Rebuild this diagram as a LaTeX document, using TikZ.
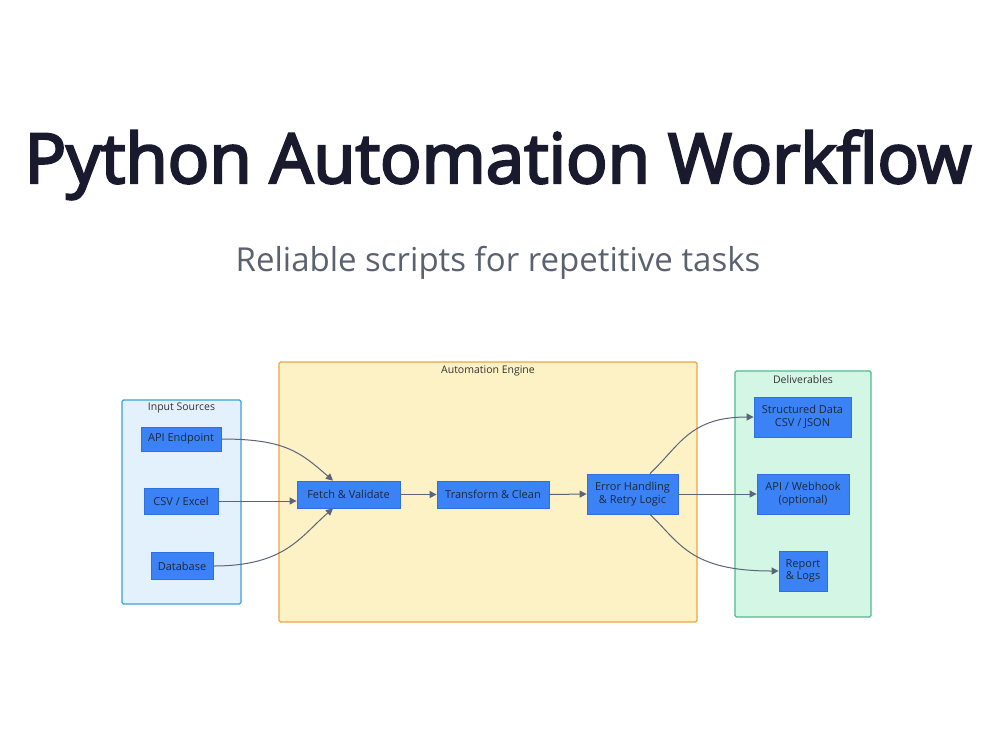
\documentclass[tikz,border=0pt]{standalone}
\usepackage{fontspec}
\setmainfont{Open Sans}
\newfontfamily\titlefont[FakeBold=3.5]{Open Sans}
\usetikzlibrary{arrows.meta}
\definecolor{titlec}{HTML}{1A1A2E}
\definecolor{subc}{HTML}{5A6270}
\definecolor{inFill}{HTML}{E3F1FD}
\definecolor{inDraw}{HTML}{3BA0DE}
\definecolor{enFill}{HTML}{FDF1C6}
\definecolor{enDraw}{HTML}{F0A542}
\definecolor{dvFill}{HTML}{D3F7E4}
\definecolor{dvDraw}{HTML}{4DBB8F}
\definecolor{nodeFill}{HTML}{3B82F6}
\definecolor{nodeDraw}{HTML}{2F6FE0}
\definecolor{nodeText}{HTML}{1E293B}
\definecolor{edgec}{HTML}{5B6478}
\definecolor{clabel}{HTML}{333333}
\tikzset{
  proc/.style={draw=nodeDraw, fill=nodeFill, text=nodeText, line width=0.8pt,
    font=\fontsize{11}{12.5}\selectfont, align=center, inner sep=0pt},
  cluster/.style={line width=1.3pt, rounded corners=1.5pt},
  clab/.style={text=clabel, font=\fontsize{10.5}{12}\selectfont, anchor=center},
  flow/.style={draw=edgec, line width=1pt, -{Triangle[length=7pt,width=7pt]}}
}
\begin{document}
\begin{tikzpicture}[x=1pt,y=-1pt]
\useasboundingbox[fill=white] (0,0) rectangle (1000,750);
% titles
\node[text=titlec, font=\fontsize{69}{75}\titlefont, anchor=base] (title) at (498,183) {Python Automation Workflow};
\node[text=subc, font=\fontsize{33}{38}\selectfont, anchor=base] (sub) at (498,271) {Reliable scripts for repetitive tasks};
% clusters
\draw[cluster, draw=inDraw, fill=inFill] (122,400) rectangle (241,604);
\node[clab] (lin) at (181.5,407.5) {Input Sources};
\draw[cluster, draw=enDraw, fill=enFill] (279,362) rectangle (697,622);
\node[clab] (len) at (488,370.5) {Automation Engine};
\draw[cluster, draw=dvDraw, fill=dvFill] (735,371) rectangle (871,617);
\node[clab] (ldv) at (803,379.5) {Deliverables};
% nodes
\node[proc, minimum width=80pt, minimum height=24pt] (api) at (181,439) {API Endpoint};
\node[proc, minimum width=74pt, minimum height=26pt] (csv) at (181,501) {CSV / Excel};
\node[proc, minimum width=62pt, minimum height=27pt] (db) at (182,566) {Database};
\node[proc, minimum width=103pt, minimum height=27pt] (fetch) at (348.5,494.5) {Fetch \& Validate};
\node[proc, minimum width=112pt, minimum height=27pt] (trans) at (493,494.5) {Transform \& Clean};
\node[proc, minimum width=91pt, minimum height=40pt] (err) at (632.5,494) {Error Handling\\\& Retry Logic};
\node[proc, minimum width=97pt, minimum height=40pt] (sd) at (802.5,417) {Structured Data\\CSV / JSON};
\node[proc, minimum width=92pt, minimum height=40pt] (hook) at (803,494) {API / Webhook\\(optional)};
\node[proc, minimum width=48pt, minimum height=40pt] (rep) at (803,571) {Report\\\& Logs};
% edges
\draw[flow] (api.east) .. controls (285,439) and (300,452) .. (fetch.north -| 333,0);
\draw[flow] (csv.east) -- (csv.east -| fetch.west);
\draw[flow] (db.east) .. controls (285,566) and (300,537) .. (fetch.south -| 333,0);
\draw[flow] (fetch.east) -- (trans.west);
\draw[flow] (trans.east) -- (err.west);
\draw[flow] (err.north -| 650,0) .. controls (680,445) and (690,417) .. (sd.west);
\draw[flow] (err.east) -- (hook.west);
\draw[flow] (err.south -| 650,0) .. controls (680,543) and (690,571) .. (rep.west);
\end{tikzpicture}
\end{document}
